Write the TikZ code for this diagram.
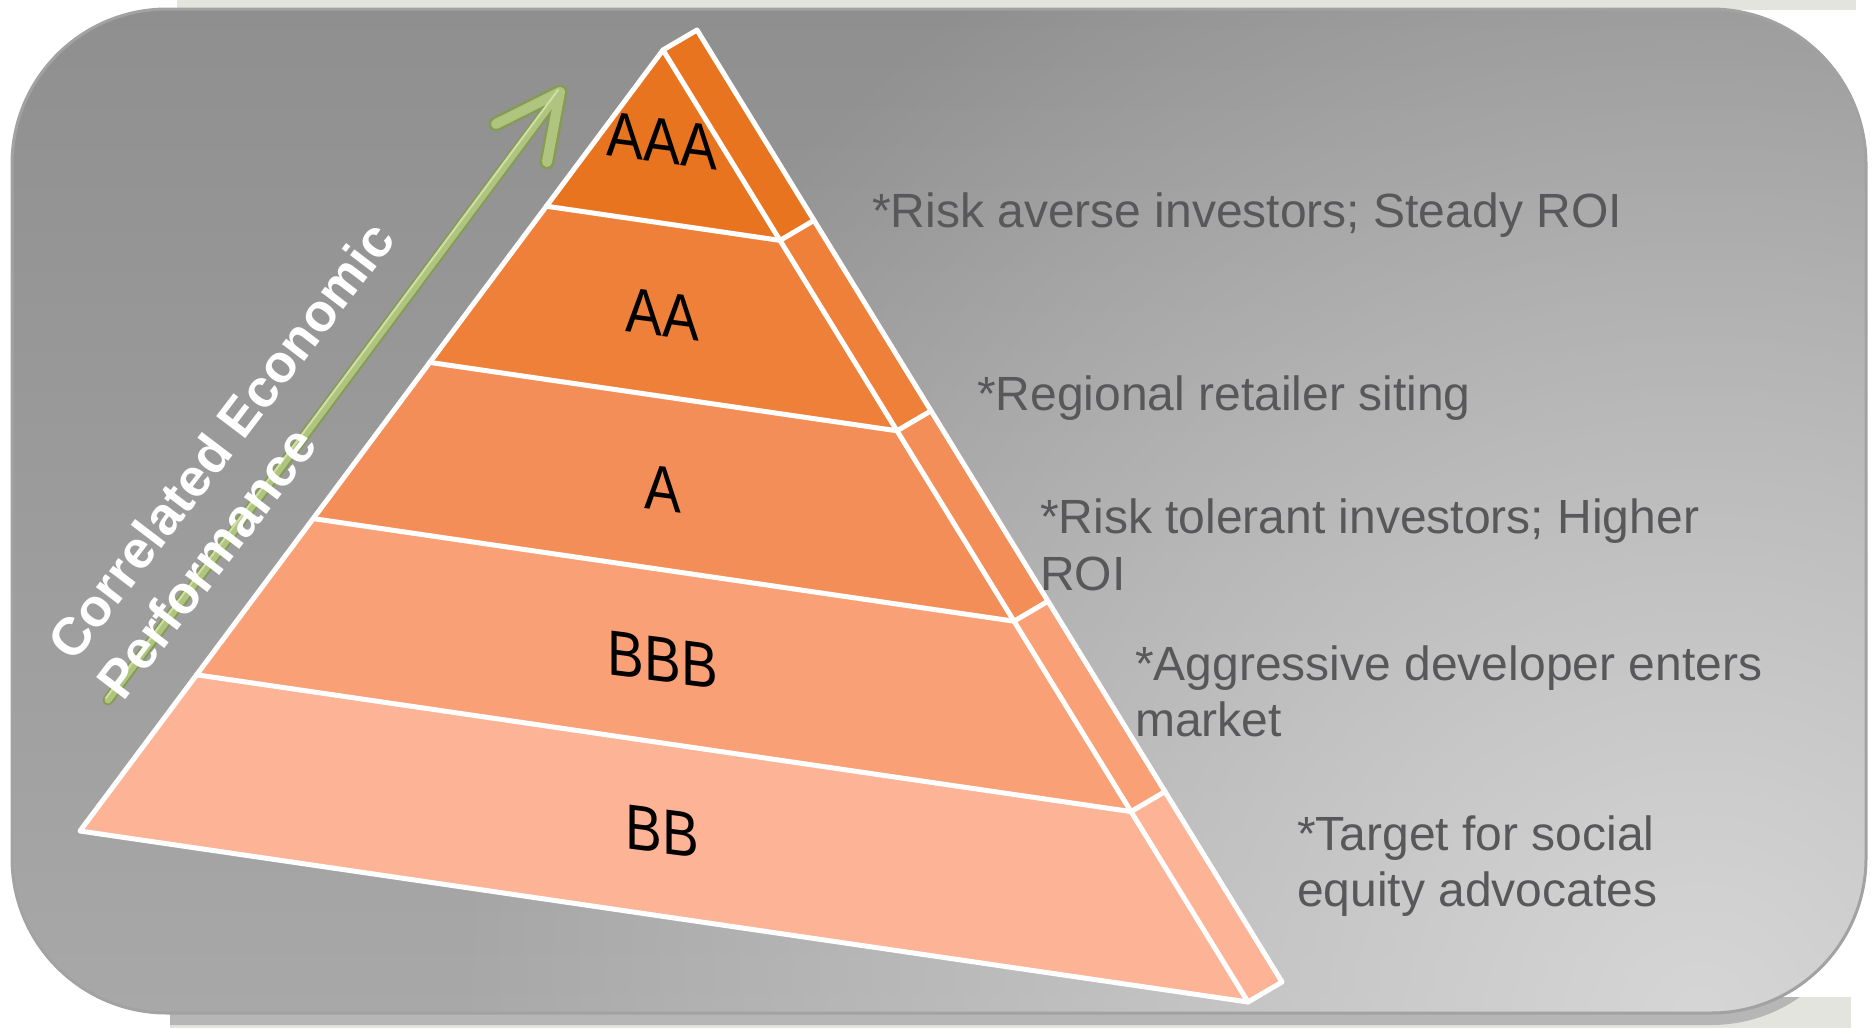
\documentclass[tikz,border=0pt]{standalone}
\usepackage{fontspec}
\setmainfont{Liberation Sans}
\usetikzlibrary{calc,fadings}
\definecolor{bgtop}{HTML}{8F8F8F}
\definecolor{bgmid}{HTML}{929292}
\definecolor{bgbot}{HTML}{A8A8A8}
\definecolor{bgglow}{HTML}{D6D6D6}
\definecolor{bgedge}{HTML}{A2A2A2}
\definecolor{strip}{HTML}{E3E4DE}
\definecolor{shadowc}{HTML}{B6B6B6}
\definecolor{cAAA}{HTML}{E8741F}
\definecolor{cAA}{HTML}{EF803A}
\definecolor{cA}{HTML}{F48E58}
\definecolor{cBBB}{HTML}{F9A077}
\definecolor{cBB}{HTML}{FCB396}
\definecolor{txtgray}{HTML}{58585B}
\definecolor{arrdark}{HTML}{869B55}
\definecolor{arrlight}{HTML}{AFC57F}
\definecolor{arrhi}{HTML}{CFDEA6}
\tikzfading[name=glow, inner color=transparent!0, outer color=transparent!100]
\newcommand{\plab}[1]{\scalebox{0.86}[1]{#1}}
\begin{document}
\begin{tikzpicture}[x=1pt,y=-1pt,
  wline/.style={draw=white, line width=5pt, line join=round, line cap=round},
  rlabel/.style={text=txtgray, font=\fontsize{48}{58}\selectfont, anchor=base west, inner sep=0pt},
  plabel/.style={font=\fontsize{64}{70}\selectfont, yslant=-0.13, inner sep=0pt, text=black},
  wlabel/.style={text=white, font=\bfseries\fontsize{53}{60}\selectfont, rotate=52.7, anchor=base west, inner sep=0pt},
  arrline/.style={line cap=round, line join=round}]
\useasboundingbox (0,0) rectangle (1873,1028);
\fill[white] (0,0) rectangle (1873,1028);
% strips
\fill[strip] (177,0) rectangle (1856,10);
\fill[strip] (170,997) rectangle (1851,1028);
\begin{scope}
  \clip (170,997) rectangle (1851,1028);
  \fill[shadowc, rounded corners=155pt] (12,21) rectangle (1866,1025);
\end{scope}
% panel
\begin{scope}
  \clip[rounded corners=155pt] (12,9) rectangle (1866,1013);
  \shade[top color=bgtop, middle color=bgmid, bottom color=bgbot] (12,9) rectangle (1866,1013);
  \fill[bgglow, path fading=glow] (1700,1013) circle (1250);
\end{scope}
\draw[bgedge, line width=3pt, rounded corners=155pt] (12,9) rectangle (1866,1013);

% pyramid coordinates
\coordinate (L0) at (663,50);
\coordinate (L5) at (80,831);
\coordinate (S5) at (1248,1002);
\foreach \k in {1,2,3,4} {
  \coordinate (L\k) at ($(L0)!\k/5!(L5)$);
  \coordinate (S\k) at ($(L0)!\k/5!(S5)$);
}
\coordinate (S0) at (L0);
\foreach \k in {0,...,5} {
  \coordinate (O\k) at ($(S\k)+(34,-20)$);
}
% bands
\foreach \k/\j/\c in {1/0/cAAA,2/1/cAA,3/2/cA,4/3/cBBB,5/4/cBB} {
  \fill[\c] (L\j) -- (L\k) -- (S\k) -- (S\j) -- cycle;
  \fill[\c] (S\j) -- (S\k) -- (O\k) -- (O\j) -- cycle;
}
% white lines
\draw[wline] (L0) -- (L5) -- (S5) -- (O5) -- (O0) -- (S0) -- cycle;
\draw[wline] (S0) -- (S5);
\foreach \k in {1,2,3,4} {
  \draw[wline] (L\k) -- (S\k) -- (O\k);
}
% pyramid labels
\node[plabel] (pAAA) at (662,141) {\plab{AAA}};
\node[plabel] (pAA) at (662,314) {\plab{AA}};
\node[plabel] (pA) at (663,489) {\plab{A}};
\node[plabel] (pBBB) at (663,660) {\plab{BBB}};
\node[plabel] (pBB) at (662,831) {\plab{BB}};

% green arrow
\coordinate (arT) at (108,700);
\coordinate (arH) at (560,92);
\coordinate (arL) at (496,124);
\coordinate (arR) at (547,162);
\draw[arrline, arrdark, line width=11pt] (arT) -- (arH);
\draw[arrline, arrdark, line width=15pt] (arL) -- (arH) -- (arR);
\draw[arrline, arrlight, line width=7pt] (arT) -- (arH);
\draw[arrline, arrlight, line width=10pt] (arL) -- (arH) -- (arR);
\draw[arrline, arrhi, line width=2pt] ($(arT)+(-2,-2)$) -- ($(arH)+(-2,-2)$);

% rotated title
\node[wlabel] (ceL1) at (74,664) {Correlated Economic};
\node[wlabel] (ceL2) at (123,703) {Performance};

% right texts
\node[rlabel] (t1) at (872,227) {*Risk averse investors; Steady ROI};
\node[rlabel] (t2) at (977,410) {*Regional retailer siting};
\node[rlabel] (t3a) at (1040,533) {*Risk tolerant investors; Higher};
\node[rlabel] (t3b) at (1040,590) {ROI};
\node[rlabel] (t4a) at (1135,680) {*Aggressive developer enters};
\node[rlabel] (t4b) at (1135,736) {market};
\node[rlabel] (t5a) at (1297,850) {*Target for social};
\node[rlabel] (t5b) at (1297,906) {equity advocates};
\end{tikzpicture}
\end{document}
